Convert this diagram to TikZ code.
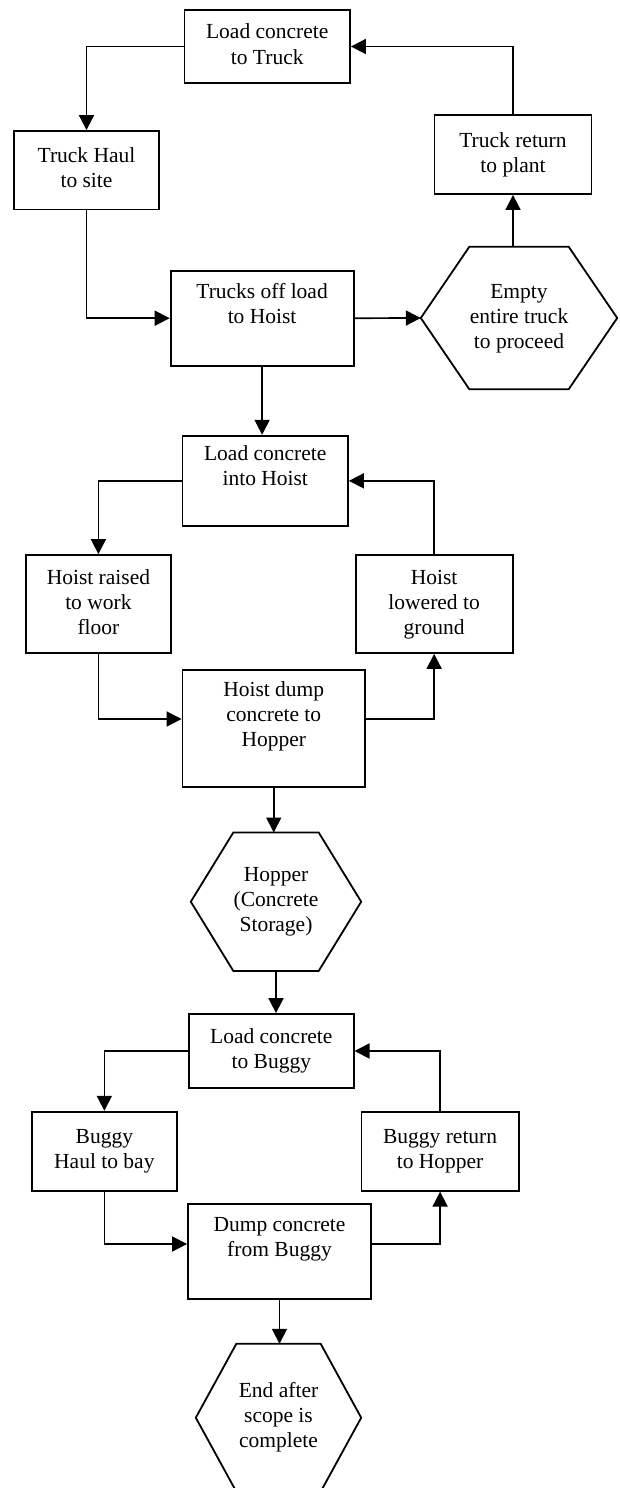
\documentclass[tikz,border=0pt]{standalone}
\usepackage{fontspec}
\setmainfont{Liberation Serif}
\usetikzlibrary{arrows.meta,calc}

\tikzset{
  stepbox/.style={draw=black, line width=1.8pt, inner sep=0pt, align=center,
    font=\fontsize{21.5}{25}\selectfont},
  hexnode/.style={inner sep=0pt, align=center, font=\fontsize{21.5}{25}\selectfont},
  hexline/.style={draw=black, line width=1.8pt, line join=miter},
  arr/.style={line width=1.7pt, -{Triangle[length=15pt,width=15pt]}},
}

% hexagon outline around a named hexnode; #2 = inset of the top and bottom edges
\newcommand{\hexoutline}[2]{%
  \draw[hexline] (#1.west) -- ([xshift=#2]#1.north west) -- ([xshift=-#2]#1.north east)
    -- (#1.east) -- ([xshift=-#2]#1.south east) -- ([xshift=#2]#1.south west) -- cycle;}

\begin{document}
\begin{tikzpicture}[x=1pt,y=-1pt]
\useasboundingbox (0,0) rectangle (620,1488);
\clip (0,0) rectangle (620,1488);

% --- truck cycle ---
\node[stepbox, minimum width=165.5pt, minimum height=73pt] (loadtruck) at (267.25,46.5)
  {Load concrete\strut\\to Truck\strut};
\node[stepbox, minimum width=145pt, minimum height=78.5pt] (haul) at (86.5,170.25)
  {Truck Haul\strut\\to site\strut};
\node[stepbox, minimum width=183pt, minimum height=95pt] (offload) at (262.1,318.2)
  {Trucks off load\strut\\to Hoist\strut\\\strut};
\node[hexnode, minimum width=196pt, minimum height=142pt] (empty) at (519,318)
  {Empty\strut\\entire truck\strut\\to proceed\strut};
\hexoutline{empty}{48.5pt}
\node[stepbox, minimum width=157pt, minimum height=79pt] (return) at (513,154.5)
  {Truck return\strut\\to plant\strut};

% --- hoist cycle ---
\node[stepbox, minimum width=165.5pt, minimum height=90.3pt] (loadhoist) at (265.25,480.85)
  {Load concrete\strut\\into Hoist\strut\\\strut};
\node[stepbox, minimum width=145.2pt, minimum height=98pt] (raise) at (98.4,604)
  {Hoist raised\strut\\to work\strut\\floor\strut};
\node[stepbox, minimum width=157.1pt, minimum height=98pt] (lower) at (434.15,604)
  {Hoist\strut\\lowered to\strut\\ground\strut};
\node[stepbox, minimum width=182.5pt, minimum height=117pt] (hoistdump) at (273.75,728.5)
  {Hoist dump\strut\\concrete to\strut\\Hopper\strut\\\strut};
\node[hexnode, minimum width=170pt, minimum height=138pt] (hopper) at (276,901.7)
  {Hopper\strut\\(Concrete\strut\\Storage)\strut};
\hexoutline{hopper}{42.5pt}

% --- buggy cycle ---
\node[stepbox, minimum width=164.6pt, minimum height=74pt] (loadbuggy) at (271.3,1051)
  {Load concrete\strut\\to Buggy\strut};
\node[stepbox, minimum width=145.3pt, minimum height=79pt] (buggyhaul) at (104.35,1151.2)
  {Buggy\strut\\Haul to bay\strut};
\node[stepbox, minimum width=157.2pt, minimum height=79pt] (buggyreturn) at (440.1,1151.2)
  {Buggy return\strut\\to Hopper\strut};
\node[stepbox, minimum width=183pt, minimum height=95pt] (buggydump) at (279.5,1251.5)
  {Dump concrete\strut\\from Buggy\strut\\\strut};
\node[hexnode, minimum width=165pt, minimum height=147.4pt] (finish) at (278.5,1417.7)
  {End after\strut\\scope is\strut\\complete\strut};
\hexoutline{finish}{40.5pt}

% --- connectors ---
\draw[arr] (loadtruck.west) -| (haul.north);
\draw[arr] (haul.south) |- (offload.west);
\draw[arr] (offload.east) -- (empty.west);
\draw[arr] (return.south |- empty.north) -- (return.south);
\draw[arr] (return.north) |- (loadtruck.east);
\draw[arr] (offload.south) -- (offload.south |- loadhoist.north);

\draw[arr] (loadhoist.west) -| (raise.north);
\draw[arr] (lower.north) |- (loadhoist.east);
\draw[arr] (raise.south) |- ([yshift=9.5pt]hoistdump.west);
\draw[arr] ([yshift=9.5pt]hoistdump.east) -| (lower.south);
\draw[arr] (hoistdump.south) -- (hoistdump.south |- hopper.north);
\draw[arr] (hopper.south) -- (hopper.south |- loadbuggy.north);

\draw[arr] (loadbuggy.west) -| (buggyhaul.north);
\draw[arr] (buggyreturn.north) |- (loadbuggy.east);
\draw[arr] (buggyhaul.south) |- ([yshift=7.5pt]buggydump.west);
\draw[arr] ([yshift=7.5pt]buggydump.east) -| (buggyreturn.south);
\draw[arr] (buggydump.south) -- (buggydump.south |- finish.north);
\end{tikzpicture}
\end{document}
